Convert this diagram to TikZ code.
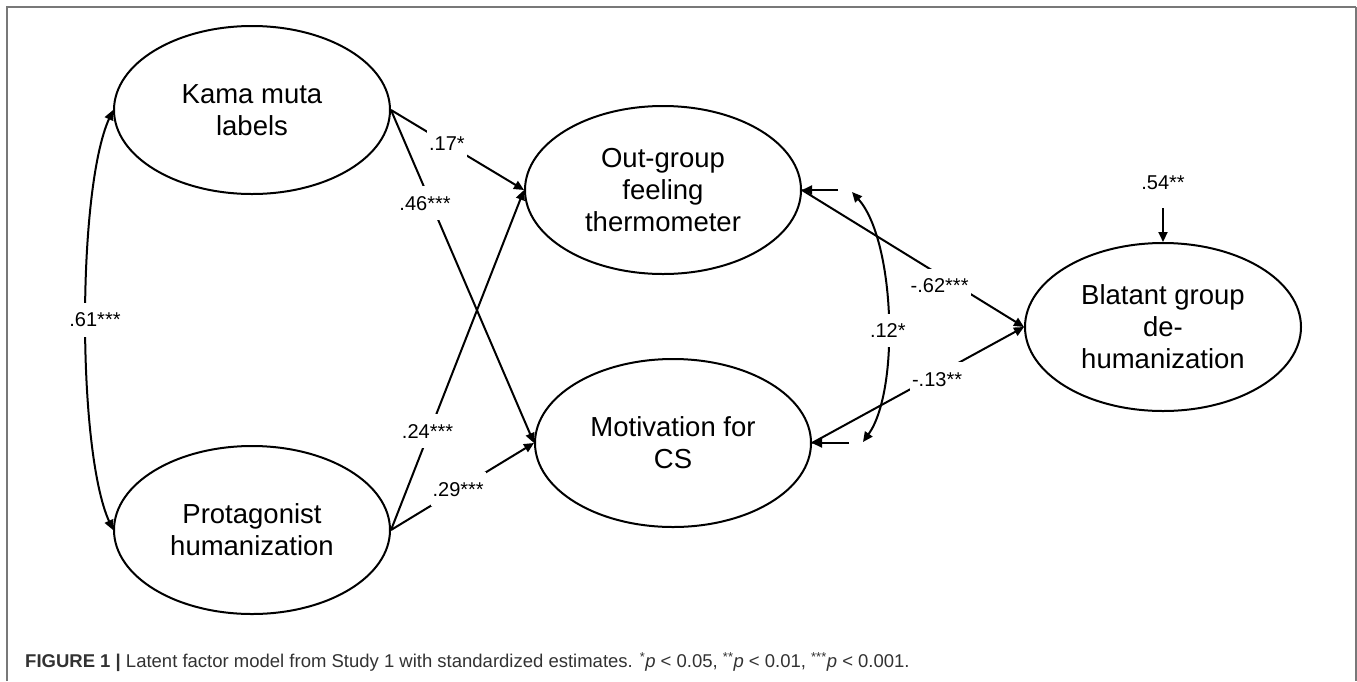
\documentclass[tikz,border=0pt]{standalone}
\usepackage{fontspec}
\setmainfont{Liberation Sans}
\newfontfamily\capfont{Liberation Sans}
\usetikzlibrary{positioning, arrows.meta, shapes.geometric}
\definecolor{frameC}{RGB}{120, 120, 120}
\definecolor{capC}{RGB}{50, 50, 50}

\tikzset{
  latent/.style={ellipse, draw, line width=2pt, minimum width=276pt,
                 minimum height=168pt, inner sep=0pt, align=center,
                 font=\fontsize{27.5}{32}\selectfont},
  regarr/.style={-{Triangle[length=10pt, width=9pt]}, line width=2pt},
  covarr/.style={{Triangle[length=10pt, width=9pt]}-{Triangle[length=10pt, width=9pt]},
                 line width=2pt},
  coef/.style={fill=white, font=\fontsize{20}{24}\selectfont,
               inner xsep=2pt, inner ysep=10pt},
}

\begin{document}
\begin{tikzpicture}[x=1pt, y=-1pt]
        \useasboundingbox (0, 0) rectangle (1357, 681);

        % ── Frame (open at the bottom) ──────────────────────────────────
        \draw[frameC, line width=1.3pt] (7, 681) -- (7, 7) -- (1356, 7);
        \draw[frameC, line width=2pt] (1356, 7) -- (1356, 681);

        % ── Latent factors ──────────────────────────────────────────────
        \node[latent] (kama)  at (252, 110)  {Kama muta\\labels};
        \node[latent] (prot)  at (252, 530)  {Protagonist\\humanization};
        \node[latent] (outg)  at (663, 190)  {Out-group\\feeling\\thermometer};
        \node[latent] (motiv) at (673, 443)  {Motivation for\\CS};
        \node[latent] (blat)  at (1163, 327) {Blatant group\\de-\\humanization};

        % ── Residual end points ─────────────────────────────────────────
        \coordinate (d1) at (838, 190);
        \coordinate (d2) at (849, 443);
        \coordinate (c1) at (852, 192);
        \coordinate (c2) at (863, 442);
        \coordinate (d3) at (1163, 208);

        % ── Covariance of the predictors ────────────────────────────────
        \draw[covarr] (kama.west) .. controls (77, 190) and (77, 450) .. (prot.west)
              node[coef, pos=0.5, xshift=9pt] (k61) {.61***};

        % ── Paths to the mediators ──────────────────────────────────────
        \draw[regarr] (kama.east) -- (outg.west)
              node[coef, pos=0.42] (k17) {.17*};
        \draw[regarr] (kama.east) -- (motiv.west)
              node[coef, pos=0.28, xshift=-6pt] (k46) {.46***};
        \draw[regarr] (prot.east) -- (outg.west)
              node[coef, pos=0.29, xshift=-2pt] (k24) {.24***};
        \draw[regarr] (prot.east) -- (motiv.west)
              node[coef, pos=0.47] (k29) {.29***};

        % ── Paths to the outcome ────────────────────────────────────────
        \draw[regarr] (outg.east) -- (blat.west)
              node[coef, pos=0.62, yshift=-11pt] (k62) {-.62***};
        \draw[regarr] (motiv.east) -- (blat.west)
              node[coef, pos=0.59, yshift=-5pt] (k13) {-.13**};

        % ── Residuals and their covariance ──────────────────────────────
        \draw[regarr] (d1) -- (outg.east);
        \draw[regarr] (d2) -- (motiv.east);
        \draw[covarr] (c1) .. controls (895, 240) and (900, 390) .. (c2)
              node[coef, pos=0.55] (k12) {.12*};
        \node[font=\fontsize{20}{24}\selectfont] (k54) at (1163, 183) {.54**};
        \draw[regarr] (d3) -- (blat.north);

        % ── Caption ─────────────────────────────────────────────────────
        \node[anchor=west, inner sep=0pt, text=capC,
              font=\capfont\fontsize{18.5}{22}\selectfont] (cap) at (25, 662)
              {\textbf{FIGURE 1 |} Latent factor model from Study 1 with standardized
               estimates. \textsuperscript{*}\textit{p} < 0.05,
               \textsuperscript{**}\textit{p} < 0.01,
               \textsuperscript{***}\textit{p} < 0.001.};
\end{tikzpicture}
\end{document}
